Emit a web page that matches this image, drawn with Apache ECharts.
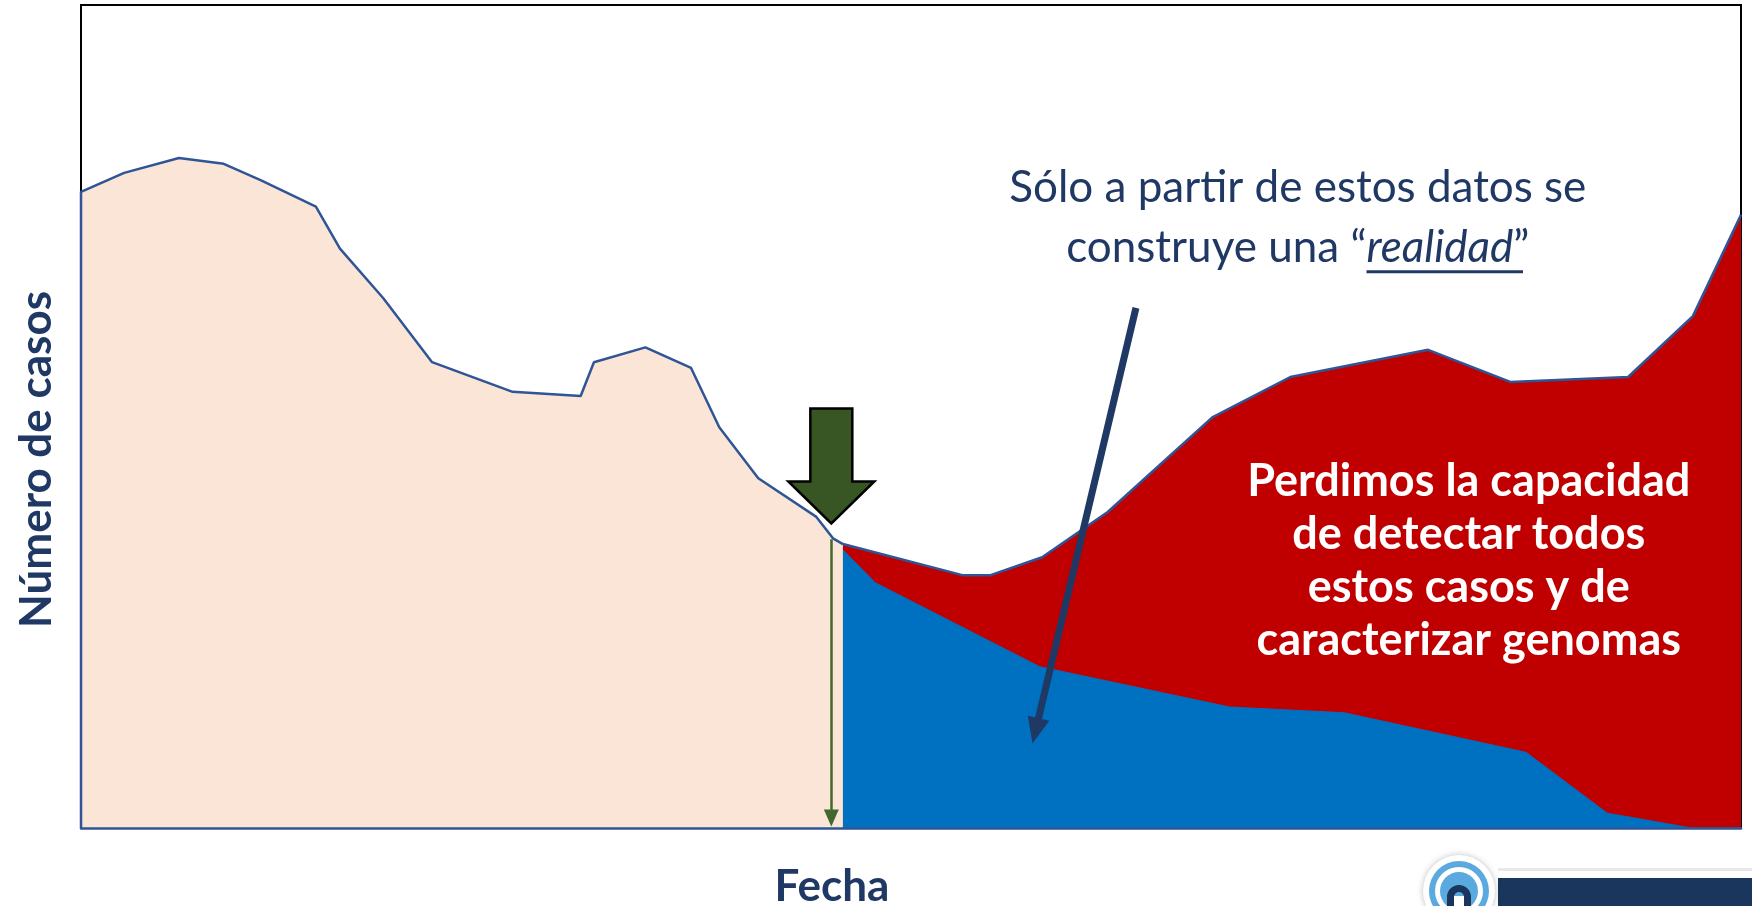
<!DOCTYPE html>
<html>
<head>
<meta charset="utf-8">
<script src="https://cdn.jsdelivr.net/npm/echarts@6/dist/echarts.min.js"></script>
<style>
    html, body { margin: 0; padding: 0; background: #ffffff; }
    #chart { width: 1752px; height: 906px; }
</style>
</head>
<body>
<div id="chart"></div>
<script>
// fecha (eje x, días) y número de casos (eje y)
var fechaAntes = [0, 0, 5.2, 11.8, 17.2, 21.7, 28.3, 31.2, 36.4, 42.3, 52.0, 60.2, 61.8, 68.0, 73.5, 76.9, 81.6, 88.6, 90.6, 91.8];
var casosAntes = [0, 773, 796, 814, 807, 787, 755, 704, 644, 566, 530, 525, 566, 584, 559, 487, 425, 378, 352, 345];

// casos reales (rojo)
var fechaReales = [91.8, 106.3, 109.5, 115.8, 123.7, 136.3, 145.7, 162.3, 172.2, 186.4, 194.2, 200];
var casosReales = [345, 307, 307, 329, 384, 499, 548, 581, 542, 548, 622, 745];

// casos detectados (azul)
var fechaDetectados = [91.8, 95.7, 115.5, 138.4, 152.2, 174.1, 183.9, 194.0, 200];
var casosDetectados = [338, 298, 196, 147, 140, 92, 18, 0, 0];

// puntos de anotación (en unidades de datos)
var flechaNota = [[127.1, 632], [115.0, 118]];
var flechaCorte = [[90.4, 351], [90.4, 12]];
var puntaFlechaVerde = [90.4, 370];
var centroNota1 = [146.6, 741];
var centroNota2 = [167.2, 324];

var azulLinea = '#2F5597';
var navy = '#1F3864';

function pares(xs, ys) {
    return xs.map(function (x, i) { return [x, ys[i]]; });
}

var chart = echarts.init(document.getElementById('chart'));

var option = {
    animation: false,
    grid: {
        left: 81,
        top: 5,
        right: 11,
        bottom: 78,
        outerBoundsMode: 'none',
        containLabel: false,
        show: true,
        borderColor: '#000000',
        borderWidth: 2
    },
    xAxis: {
        type: 'value',
        min: 0,
        max: 200,
        z: 5,
        name: 'Fecha',
        nameLocation: 'middle',
        nameGap: 37,
        nameTextStyle: {
            color: navy,
            fontFamily: 'Lato',
            fontWeight: 'bold',
            fontSize: 44,
            padding: [0, 158, 0, 0]
        },
        axisLine: { show: true, lineStyle: { color: azulLinea, width: 2.5 } },
        axisTick: { show: false },
        axisLabel: { show: false },
        splitLine: { show: false }
    },
    yAxis: {
        type: 'value',
        min: 0,
        max: 1000,
        name: 'Número de casos',
        nameLocation: 'middle',
        nameRotate: 90,
        nameGap: 22,
        nameTextStyle: {
            color: navy,
            fontFamily: 'Lato',
            fontWeight: 'bold',
            fontSize: 44,
            padding: [0, 86, 0, 0]
        },
        axisLine: { show: false },
        axisTick: { show: false },
        axisLabel: { show: false },
        splitLine: { show: false }
    },
    series: [{
            name: 'antes',
            type: 'line',
            data: pares(fechaAntes, casosAntes),
            symbol: 'none',
            clip: false,
            silent: true,
            lineStyle: { color: azulLinea, width: 2.5 },
            areaStyle: { color: '#FBE5D6', opacity: 1 },
            z: 2
        },
        {
            name: 'reales',
            type: 'line',
            data: pares(fechaReales, casosReales),
            symbol: 'none',
            silent: true,
            lineStyle: { color: azulLinea, width: 2.5 },
            areaStyle: { color: '#C00000', opacity: 1 },
            z: 3
        },
        {
            name: 'detectados',
            type: 'line',
            data: pares(fechaDetectados, casosDetectados),
            symbol: 'none',
            silent: true,
            lineStyle: { color: '#0070C0', width: 1 },
            areaStyle: { color: '#0070C0', opacity: 1 },
            z: 4,
            markLine: {
                silent: true,
                animation: false,
                label: { show: false },
                data: [
                    [{
                        coord: flechaNota[0],
                        symbol: 'none',
                        lineStyle: { color: navy, width: 7, type: 'solid' }
                    }, {
                        coord: flechaNota[1],
                        symbol: 'triangle',
                        symbolSize: [22, 26]
                    }],
                    [{
                        coord: flechaCorte[0],
                        symbol: 'none',
                        lineStyle: { color: '#43682B', width: 2.5, type: 'solid' }
                    }, {
                        coord: flechaCorte[1],
                        symbol: 'triangle',
                        symbolSize: [15, 17]
                    }]
                ]
            }
        }
    ]
};
chart.setOption(option);

/**
 * anotaciones
 */
var tip = chart.convertToPixel({ gridIndex: 0 }, puntaFlechaVerde);
var n1 = chart.convertToPixel({ gridIndex: 0 }, centroNota1);
var n2 = chart.convertToPixel({ gridIndex: 0 }, centroNota2);

var tam1 = 44;
var ctx = document.createElement('canvas').getContext('2d');
ctx.font = tam1 + 'px Lato';
var wA = ctx.measureText('construye una “').width;
var wC = ctx.measureText('”').width;
ctx.font = 'italic ' + tam1 + 'px Lato';
var wB = ctx.measureText('realidad').width;
var x0 = n1[0] - (wA + wB + wC) / 2;
var y2 = n1[1] + 30;

var tx = tip[0], ty = tip[1];
var graphic = [{
        type: 'polygon',
        z: 100,
        shape: {
            points: [
                [tx - 21, ty - 115], [tx + 21, ty - 115], [tx + 21, ty - 42], [tx + 43, ty - 42],
                [tx, ty], [tx - 43, ty - 42], [tx - 21, ty - 42]
            ]
        },
        style: { fill: '#375623', stroke: '#000000', lineWidth: 2.5, lineJoin: 'miter' }
    },
    {
        type: 'text',
        z: 100,
        x: n1[0],
        y: n1[1] - 30,
        style: {
            text: 'Sólo a partir de estos datos se',
            fill: navy,
            font: tam1 + 'px Lato',
            align: 'center',
            verticalAlign: 'middle'
        }
    },
    {
        type: 'text',
        z: 100,
        x: x0,
        y: y2,
        style: { text: 'construye una “', fill: navy, font: tam1 + 'px Lato', align: 'left', verticalAlign: 'middle' }
    },
    {
        type: 'text',
        z: 100,
        x: x0 + wA,
        y: y2,
        style: { text: 'realidad', fill: navy, font: 'italic ' + tam1 + 'px Lato', align: 'left', verticalAlign: 'middle' }
    },
    {
        type: 'text',
        z: 100,
        x: x0 + wA + wB,
        y: y2,
        style: { text: '”', fill: navy, font: tam1 + 'px Lato', align: 'left', verticalAlign: 'middle' }
    },
    {
        type: 'rect',
        z: 100,
        shape: { x: x0 + wA, y: y2 + 22, width: wB + wC * 0.6, height: 3 },
        style: { fill: navy }
    },
    {
        type: 'text',
        z: 100,
        x: n2[0],
        y: n2[1],
        style: {
            text: 'Perdimos la capacidad\nde detectar todos\nestos casos y de\ncaracterizar genomas',
            fill: '#ffffff',
            font: 'bold 45px Lato',
            lineHeight: 53,
            align: 'center',
            verticalAlign: 'middle'
        }
    },

    // logo
    { type: 'rect', shape: { x: 1498, y: 868, width: 254, height: 3 }, style: { fill: '#e8e8e8' } },
    { type: 'rect', shape: { x: 1498, y: 878, width: 254, height: 28 }, style: { fill: '#1B365D' } },
    {
        type: 'circle',
        shape: { cx: 1459, cy: 891, r: 36 },
        style: { fill: '#ffffff', shadowBlur: 6, shadowColor: 'rgba(0,0,0,0.25)' }
    },
    { type: 'circle', shape: { cx: 1459, cy: 891, r: 30 }, style: { fill: '#5AA9DF' } },
    { type: 'circle', shape: { cx: 1459, cy: 891, r: 24 }, style: { fill: '#ffffff' } },
    { type: 'circle', shape: { cx: 1459, cy: 891, r: 19 }, style: { fill: '#5AA9DF' } },
    {
        type: 'sector',
        shape: { cx: 1459, cy: 897, r: 12, r0: 5, startAngle: Math.PI, endAngle: Math.PI * 2 },
        style: { fill: '#1B365D' }
    },
    { type: 'rect', shape: { x: 1447, y: 896, width: 7, height: 10 }, style: { fill: '#1B365D' } },
    { type: 'rect', shape: { x: 1464, y: 896, width: 7, height: 10 }, style: { fill: '#1B365D' } },
    { type: 'rect', shape: { x: 1454, y: 896, width: 10, height: 10 }, style: { fill: '#ffffff' } }
];

chart.setOption({ graphic: graphic });
</script>
</body>
</html>
